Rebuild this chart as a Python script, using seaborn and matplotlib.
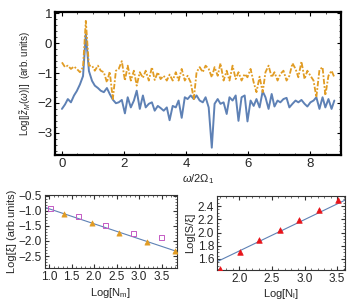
import numpy as np
import pandas as pd
import matplotlib.pyplot as plt
import seaborn as sns

# spectrum (top panel)
freq = [0.00, 0.10, 0.19, 0.29, 0.39, 0.48, 0.58, 0.68, 0.77, 0.87,
        0.97, 1.06, 1.16, 1.25, 1.35, 1.45, 1.54, 1.64, 1.74, 1.83,
        1.93, 2.03, 2.12, 2.22, 2.32, 2.41, 2.51, 2.61, 2.70, 2.80,
        2.90, 2.99, 3.09, 3.18, 3.28, 3.38, 3.47, 3.57, 3.67, 3.76,
        3.86, 3.96, 4.05, 4.15, 4.25, 4.34, 4.44, 4.54, 4.63, 4.73,
        4.83, 4.92, 5.02, 5.11, 5.21, 5.31, 5.40, 5.50, 5.60, 5.69,
        5.79, 5.89, 5.98, 6.08, 6.18, 6.27, 6.37, 6.47, 6.56, 6.66,
        6.76, 6.85, 6.95, 7.04, 7.14, 7.24, 7.33, 7.43, 7.53, 7.62,
        7.72, 7.82, 7.91, 8.01, 8.11, 8.20, 8.30, 8.40, 8.49, 8.59,
        8.69, 8.78]
blue = [-2.20, -2.05, -1.87, -1.98, -1.75, -1.60, -1.38, -1.10, 0.30, -0.93,
        -1.26, -1.42, -1.50, -1.59, -1.64, -1.50, -1.70, -1.89, -2.01, -1.98,
        -1.90, -2.35, -1.81, -2.15, -1.92, -1.59, -2.20, -1.75, -2.15, -2.03,
        -1.98, -2.26, -2.10, -2.17, -2.26, -2.15, -2.58, -2.10, -2.15, -1.92,
        -2.50, -1.81, -1.87, -1.75, -1.87, -1.75, -1.92, -1.98, -1.81, -2.15,
        -3.50, -2.03, -1.87, -2.03, -1.98, -2.37, -1.81, -1.92, -1.75, -2.60,
        -1.81, -1.75, -2.62, -1.92, -2.10, -1.87, -2.15, -1.61, -1.81, -2.20,
        -1.70, -2.12, -1.92, -1.98, -1.87, -1.83, -2.15, -2.03, -1.92, -1.98,
        -1.90, -2.03, -2.12, -1.98, -1.92, -1.81, -2.20, -1.81, -2.15, -1.87,
        -2.20, -1.92]
orange = [-0.64, -0.80, -0.75, -0.86, -0.78, -0.86, -0.97, -0.80, 0.75, -0.75,
          -0.75, -0.92, -0.75, -0.92, -0.97, -1.31, -0.95, -1.87, -0.92, -0.86,
          -0.60, -1.25, -0.75, -1.25, -0.92, -1.42, -0.97, -1.16, -0.92, -1.25,
          -0.80, -1.23, -0.97, -1.20, -1.09, -1.25, -1.05, -1.25, -0.97, -1.25,
          -0.86, -1.25, -1.09, -1.31, -1.87, -0.97, -0.80, -0.97, -0.75, -0.86,
          -1.14, -0.80, -1.09, -0.67, -1.25, -0.92, -1.25, -0.75, -1.20, -0.97,
          -1.25, -1.03, -1.14, -0.86, -1.31, -1.64, -1.12, -1.64, -0.97, -0.75,
          -1.14, -0.97, -1.25, -1.03, -0.92, -1.25, -1.09, -0.67, -0.86, -1.14,
          -0.61, -1.20, -0.92, -1.09, -1.25, -1.81, -0.89, -0.80, -1.75, -1.09,
          -0.92, -1.14]

# bottom left: Log[xi] vs Log[N_m]
nm_sq = [1.04, 1.66, 2.26, 2.88, 3.50]
xi_sq = [-0.91, -1.19, -1.49, -1.74, -1.89]
nm_tri = [1.33, 1.96, 2.56, 3.18, 3.79]
xi_tri = [-1.11, -1.41, -1.72, -2.04, -2.33]
fit_left = [-0.43, -0.50]   # intercept, slope

# bottom right: Log[S/xi] vs Log[N_l]
nl = [1.70, 2.01, 2.31, 2.62, 2.92, 3.22, 3.52]
sxi = [1.45, 1.70, 1.88, 2.04, 2.19, 2.34, 2.49]
fit_right = [0.77, 0.475]

BLUE = "#5E81B5"
ORANGE = "#E19C24"

sns.set_style("ticks")
plt.rcParams["font.family"] = ["Liberation Sans", "DejaVu Sans"]
plt.rcParams["mathtext.fontset"] = "custom"
plt.rcParams["mathtext.it"] = "Liberation Sans:italic"
plt.rcParams["mathtext.rm"] = "Liberation Sans"

fig = plt.figure(figsize=(3.51, 3.06), dpi=100)

def style_axes(ax, lw, color, size):
    for s in ax.spines.values():
        s.set_linewidth(lw)
        s.set_color(color)
    ax.tick_params(which="both", direction="in", top=True, right=True,
                   labelsize=size, color=color, pad=2)
    ax.tick_params(which="major", length=3, width=0.8)
    ax.tick_params(which="minor", length=1.5, width=0.5)
    ax.minorticks_on()

# top panel
ax1 = fig.add_axes([0.157, 0.493, 0.815, 0.468])
df = pd.DataFrame({"f": freq, "blue": blue, "orange": orange})
sns.lineplot(data=df, x="f", y="blue", ax=ax1, color=BLUE, lw=1.4)
sns.lineplot(data=df, x="f", y="orange", ax=ax1, color=ORANGE, lw=1.3,
             dashes=False)
ax1.lines[1].set_dashes([3, 1, 1, 1])
ax1.set_xlim(-0.22, 9.0)
ax1.set_ylim(-3.75, 1.05)
ax1.set_xticks([0, 2, 4, 6, 8])
ax1.set_yticks([-3, -2, -1, 0, 1])
ax1.set_yticklabels(["\u22123", "\u22122", "\u22121", "0", "1"])
style_axes(ax1, 1.6, "black", 9.5)
ax1.set_xlabel(r"$\omega/2\Omega_1$", fontsize=8, labelpad=2)
ax1.set_ylabel(r"Log[|$\tilde{z}_M(\omega)$|]  (arb. units)", fontsize=7,
               labelpad=3)

# bottom left
ax2 = fig.add_axes([0.127, 0.124, 0.376, 0.239])
xs = np.array([0.9, 3.85])
sns.lineplot(x=xs, y=fit_left[0] + fit_left[1] * xs, ax=ax2, color=BLUE, lw=0.8)
sns.scatterplot(x=nm_tri, y=xi_tri, ax=ax2, marker="^", color=ORANGE, s=14,
                edgecolor=ORANGE, linewidth=0.5, zorder=3)
sns.scatterplot(x=nm_sq, y=xi_sq, ax=ax2, marker="s", facecolor="none",
                edgecolor="#C45BC4", s=14, linewidth=0.7, zorder=3)
ax2.set_xlim(0.9, 3.83)
ax2.set_ylim(-2.9, -0.47)
ax2.set_xticks([1.0, 1.5, 2.0, 2.5, 3.0, 3.5])
ax2.set_yticks([-0.5, -1.0, -1.5, -2.0, -2.5])
ax2.set_yticklabels(["\u22120.5", "\u22121.0", "\u22121.5", "\u22122.0", "\u22122.5"])
style_axes(ax2, 0.8, "#333333", 8.5)
ax2.set_xlabel(r"Log[N$_{\rm m}$]", fontsize=8, labelpad=2)
ax2.set_ylabel("Log[\u03be] (arb.units)", fontsize=8, labelpad=1)

# bottom right
ax3 = fig.add_axes([0.618, 0.118, 0.365, 0.241])
xs = np.array([1.6, 3.7])
sns.lineplot(x=xs, y=fit_right[0] + fit_right[1] * xs, ax=ax3, color=BLUE, lw=0.8)
sns.scatterplot(x=nl, y=sxi, ax=ax3, marker="^", color="#E8141A", s=16,
                edgecolor="#E8141A", linewidth=0.5, zorder=3, clip_on=True)
ax3.set_xlim(1.66, 3.62)
ax3.set_ylim(1.435, 2.55)
ax3.set_xticks([2.0, 2.5, 3.0, 3.5])
ax3.set_yticks([1.6, 1.8, 2.0, 2.2, 2.4])
style_axes(ax3, 0.8, "#333333", 8.5)
ax3.set_xlabel(r"Log[N$_{\rm l}$]", fontsize=8, labelpad=2)
ax3.set_ylabel("Log[S/\u03be]", fontsize=8, labelpad=2)

fig.savefig("out.png", dpi=100)
